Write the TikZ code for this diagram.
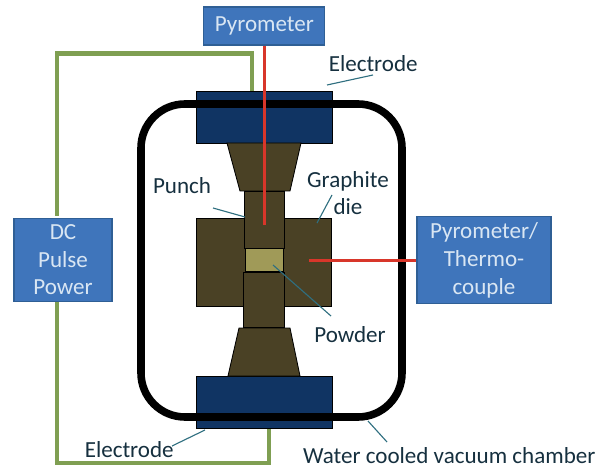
\documentclass[tikz,border=0pt]{standalone}
\usepackage{fontspec}
\setmainfont{Carlito}
\usetikzlibrary{positioning}
\definecolor{boxblue}{HTML}{3F75BB}
\definecolor{boxline}{HTML}{2F5F95}
\definecolor{boxtext}{HTML}{D9E6F3}
\definecolor{wiregreen}{HTML}{7F9F52}
\definecolor{elecblue}{HTML}{103463}
\definecolor{diebrown}{HTML}{4A4125}
\definecolor{powderc}{HTML}{A09A58}
\definecolor{labelc}{HTML}{16303F}
\definecolor{leaderc}{HTML}{2F6F80}
\definecolor{beamred}{HTML}{D8362A}
\tikzset{
    bluebox/.style = {rectangle, thick, draw=boxline, fill=boxblue, text=boxtext, align=center, inner sep=0pt, font=\fontsize{16.4}{19.8}\selectfont},
    part/.style = {rectangle, semithick, draw=black, inner sep=0pt},
    elecnode/.style = {part, fill=elecblue, minimum width=3.4cm, minimum height=1.3cm},
    punchnode/.style = {part, fill=diebrown},
    tag/.style = {text=labelc, align=center, inner sep=0pt, font=\fontsize{16.4}{19.2}\selectfont},
    wire/.style = {line width=3.2pt, wiregreen},
    beam/.style = {line width=2.6pt, beamred},
    leader/.style = {line width=0.8pt, leaderc},
    chamberline/.style = {line width=5.4pt, black, rounded corners=1.1cm}
}

\begin{document}
\begin{tikzpicture}
  \useasboundingbox (0,0) rectangle (14.925,-11.7);

  % wires go behind the electrodes
  \coordinate (wa) at (1.425,-5.4);
  \coordinate (wb) at (1.425,-1.34);
  \coordinate (wc) at (6.3,-1.34);
  \coordinate (wd) at (6.3,-2.5);
  \coordinate (we) at (1.425,-7.5);
  \coordinate (wf) at (1.425,-11.575);
  \coordinate (wg) at (6.725,-11.575);
  \coordinate (wh) at (6.725,-10.6);
  \draw[wire] (wa) -- (wb) -- (wc) -- (wd);
  \draw[wire] (we) -- (wf) -- (wg) -- (wh);

  \node[bluebox, minimum width=3.025cm, minimum height=0.95cm] (pyro) at (6.61,-0.65) {Pyrometer};
  \node[bluebox, minimum width=2.45cm, minimum height=2.075cm] (dc) at (1.575,-6.49) {DC\\Pulse\\Power};
  \node[bluebox, minimum width=3.35cm, minimum height=2.175cm] (thermo) at (12.1,-6.51) {Pyrometer/\\Thermo-\\couple};

  \node[elecnode] (etop) at (6.6,-2.925) {};
  \node[elecnode] (ebot) at (6.6,-10.05) {};

  \draw[semithick, fill=diebrown] (5.675,-3.575) -- (7.525,-3.575) -- (7.25,-4.775) -- (6,-4.775) -- cycle;
  \draw[semithick, fill=diebrown] (5.975,-8.2) -- (7.25,-8.2) -- (7.5,-9.4) -- (5.7,-9.4) -- cycle;

  \node[part, fill=diebrown, minimum width=3.375cm, minimum height=2.2cm] (die) at (6.59,-6.55) {};
  \node[punchnode, minimum width=1cm, minimum height=1.425cm] (ptop) at (6.6,-5.49) {};
  \node[part, fill=powderc, minimum width=0.95cm, minimum height=0.575cm] (powder) at (6.6,-6.51) {};
  \node[punchnode, minimum width=1.025cm, minimum height=1.375cm] (pbot) at (6.6,-7.51) {};

  \draw[chamberline] (3.525,-2.6) rectangle (10.05,-10.425);

  \coordinate (bv) at (6.61,-5.625);
  \coordinate (bh) at (7.725,-6.51);
  \draw[beam] (pyro.south) -- (bv);
  \draw[beam] (thermo.west) -- (bh);

  \node[tag] (letop) at (9.33,-1.58) {Electrode};
  \node[tag] (lpunch) at (4.55,-4.63) {Punch};
  \node[tag] (ldie) at (8.7,-4.83) {Graphite\\die};
  \node[tag] (lpowder) at (8.75,-8.375) {Powder};
  \node[tag] (lebot) at (3.23,-11.25) {Electrode};
  \node[tag] (lwater) at (11.23,-11.38) {Water cooled vacuum chamber};

  \coordinate (ta) at (8.175,-2.125);
  \coordinate (tb) at (9.325,-1.875);
  \coordinate (tc) at (5.325,-5.2);
  \coordinate (td) at (6.125,-5.425);
  \coordinate (te) at (8.3,-4.875);
  \coordinate (tf) at (7.925,-5.575);
  \coordinate (tg) at (6.825,-6.625);
  \coordinate (th) at (8.275,-7.9);
  \coordinate (ti) at (5.125,-10.75);
  \coordinate (tj) at (4.3,-11.15);
  \coordinate (tk) at (9.2,-10.525);
  \coordinate (tl) at (9.675,-11.05);
  \draw[leader] (ta) -- (tb);
  \draw[leader] (tc) -- (td);
  \draw[leader] (te) -- (tf);
  \draw[leader] (tg) -- (th);
  \draw[leader] (ti) -- (tj);
  \draw[leader] (tk) -- (tl);
\end{tikzpicture}
\end{document}
